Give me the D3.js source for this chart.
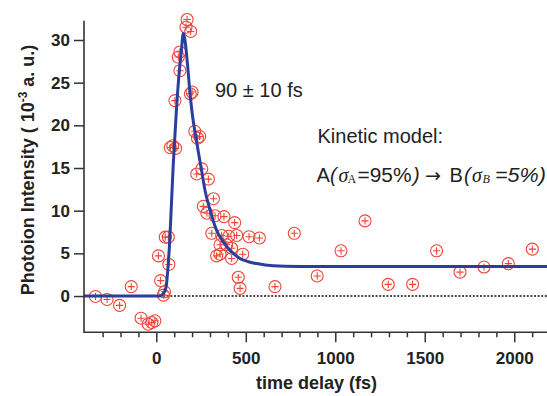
<!DOCTYPE html>
<html>
<head>
<meta charset="utf-8">
<script src="https://cdn.jsdelivr.net/npm/d3@7"></script>
<style>
  html, body { margin: 0; padding: 0; background: #fff; }
  svg { display: block; }
</style>
</head>
<body>
<svg id="chart" width="547" height="396"></svg>
<script>
// ---- data ----
const timeDelay = [-340,-275,-205,-140,-85,-45,-25,-8,12,24,40,46,50,67,70,78,92,108,104,123,132,132,166,172,192,190,200,
  215,230,242,226,254,291,319,263,283,328,378,438,310,365,405,449,518,576,356,393,421,337,356,421,483,458,468,663,
  771,899,1032,1166,1296,1432,1566,1697,1831,1967,2101];
const intensity = [-0.05,-0.4,-1.1,1.1,-2.6,-3.3,-3.1,-2.9,4.7,1.8,0.1,0.5,6.9,6.9,3.7,17.4,17.6,17.3,22.9,28.0,28.6,26.4,31.5,32.4,31.0,23.7,23.9,
  19.3,18.5,18.7,14.3,14.9,13.7,11.4,10.5,9.7,9.4,9.3,8.6,7.35,7.1,7.0,7.1,6.95,6.8,6.0,6.0,5.6,4.7,4.9,4.4,4.9,2.2,0.9,1.1,
  7.35,2.35,5.3,8.8,1.37,1.37,5.3,2.8,3.4,3.8,5.5];

const fitTime = [-404,20,40,55,65,75,85,95,110,125,140,151,160,175,188,200,226,254,272,300,337,360,393,430,468,510,561,654,800,1000,2183];
const fitValue = [0,0,0.3,1.1,3.3,6.5,11,15.5,21,25.5,28.7,30.8,30.0,27,23.8,21.5,18,14.6,12.4,10.1,7.7,6.8,5.8,5.0,4.4,4.05,3.8,3.55,3.47,3.45,3.45];

const xTicks = [0, 500, 1000, 1500, 2000];
const xMinorTicks = d3.range(-300, 2200, 100);
const yTicks = [0, 5, 10, 15, 20, 25, 30];

// ---- layout ----
const svg = d3.select("#chart");
const mLeft = 84, mRight = 547, mTop = 20.7, mBottom = 332.3;
const x = d3.scaleLinear().domain([-404, 2183]).range([mLeft, mRight]);
const y = d3.scaleLinear().domain([-4.25, 32.26]).range([mBottom, mTop]);

const axisColor = "#333";
const font = "'Liberation Sans', Arial, sans-serif";
const serif = "'Liberation Serif', 'Times New Roman', serif";

// zero dotted line
svg.append("line")
  .attr("x1", mLeft).attr("x2", mRight)
  .attr("y1", y(0)).attr("y2", y(0))
  .attr("stroke", "#111").attr("stroke-width", 1.4)
  .attr("stroke-dasharray", "2,1.6");

// data points
const pts = svg.append("g").attr("stroke", "#ef4536").attr("fill", "none").attr("stroke-width", 1.1);
timeDelay.forEach((t, i) => {
  const cx = x(t), cy = y(intensity[i]);
  pts.append("circle").attr("cx", cx).attr("cy", cy).attr("r", 6);
  pts.append("path").attr("d", `M${cx-3.6},${cy}H${cx+3.6}M${cx},${cy-3.6}V${cy+3.6}`);
});

// fit curve
const line = d3.line().x((d, i) => x(fitTime[i])).y((d, i) => y(fitValue[i])).curve(d3.curveMonotoneX);
svg.append("path")
  .attr("d", line(fitTime))
  .attr("fill", "none").attr("stroke", "#2b3e9c").attr("stroke-width", 3);

// x axis
const xAxis = d3.axisBottom(x).tickValues(xTicks).tickSize(10).tickPadding(10).tickFormat(d3.format("d"));
const gx = svg.append("g").attr("transform", `translate(0,${mBottom})`).call(xAxis);
const xMinor = d3.axisBottom(x).tickValues(xMinorTicks.filter(v => v % 500 !== 0)).tickSize(5).tickFormat("");
const gxm = svg.append("g").attr("transform", `translate(0,${mBottom})`).call(xMinor);

// y axis
const yAxis = d3.axisLeft(y).tickValues(yTicks).tickSize(10).tickPadding(4);
const gy = svg.append("g").attr("transform", `translate(${mLeft},0)`).call(yAxis);

[gx, gxm, gy].forEach(g => {
  g.select(".domain").remove();
  g.selectAll(".tick line").attr("stroke", axisColor).attr("stroke-width", 1.5);
  g.selectAll(".tick text").attr("fill", "#222").style("font-family", font)
    .style("font-size", "17px").style("font-weight", "bold");
});
// axis lines drawn explicitly (meeting at the corner)
svg.append("path")
  .attr("d", `M${mLeft},${mTop}V${mBottom}H${mRight}`)
  .attr("fill", "none").attr("stroke", axisColor).attr("stroke-width", 1.6);

// axis titles
svg.append("text")
  .attr("x", (mLeft + mRight) / 2 + 1).attr("y", 389)
  .attr("text-anchor", "middle")
  .style("font-family", font).style("font-size", "18px").style("font-weight", "bold")
  .attr("fill", "#222")
  .text("time delay (fs)");

const yt = svg.append("text")
  .attr("transform", "translate(34,170) rotate(-90)")
  .attr("text-anchor", "middle")
  .style("font-family", font).style("font-size", "18px").style("font-weight", "bold")
  .attr("fill", "#222");
yt.append("tspan").text("Photoion Intensity ( 10");
yt.append("tspan").attr("dy", -7).style("font-size", "12px").text("-3");
yt.append("tspan").attr("dy", 7).text(" a. u.)");

// annotations
svg.append("text")
  .attr("x", 215).attr("y", 97)
  .style("font-family", font).style("font-size", "20px")
  .attr("fill", "#222")
  .text("90 ± 10 fs");

svg.append("text")
  .attr("x", 317.5).attr("y", 143)
  .style("font-family", font).style("font-size", "20px")
  .attr("fill", "#222")
  .text("Kinetic model:");

const km = svg.append("text")
  .attr("y", 181.5)
  .style("font-family", font).style("font-size", "20px")
  .attr("fill", "#222");
km.append("tspan").attr("x", 316.5).text("A");
km.append("tspan").attr("x", 330).style("font-style", "italic").text("(");
km.append("tspan").attr("x", 338.5).style("font-style", "italic").style("font-family", serif).text("σ");
km.append("tspan").attr("x", 347.5).style("font-family", serif).style("font-size", "12px").attr("dy", 1).text("A");
km.append("tspan").attr("x", 357.5).attr("dy", -1).attr("textLength", 54).attr("lengthAdjust", "spacingAndGlyphs").text("=95%");
km.append("tspan").attr("x", 413).style("font-style", "italic").text(")");
km.append("tspan").attr("x", 425).style("font-family", "'DejaVu Sans', sans-serif").style("font-size", "19px").text("\u2192");
km.append("tspan").attr("x", 449.5).text("B");
km.append("tspan").attr("x", 464).style("font-style", "italic").text("(");
km.append("tspan").attr("x", 472).style("font-style", "italic").style("font-family", serif).text("σ");
km.append("tspan").attr("x", 482.5).style("font-style", "italic").style("font-family", serif).style("font-size", "12px").attr("dy", 1).text("B");
km.append("tspan").attr("x", 495).style("font-style", "italic").attr("dy", -1).attr("textLength", 51).attr("lengthAdjust", "spacingAndGlyphs").text("=5%)");
</script>
</body>
</html>
